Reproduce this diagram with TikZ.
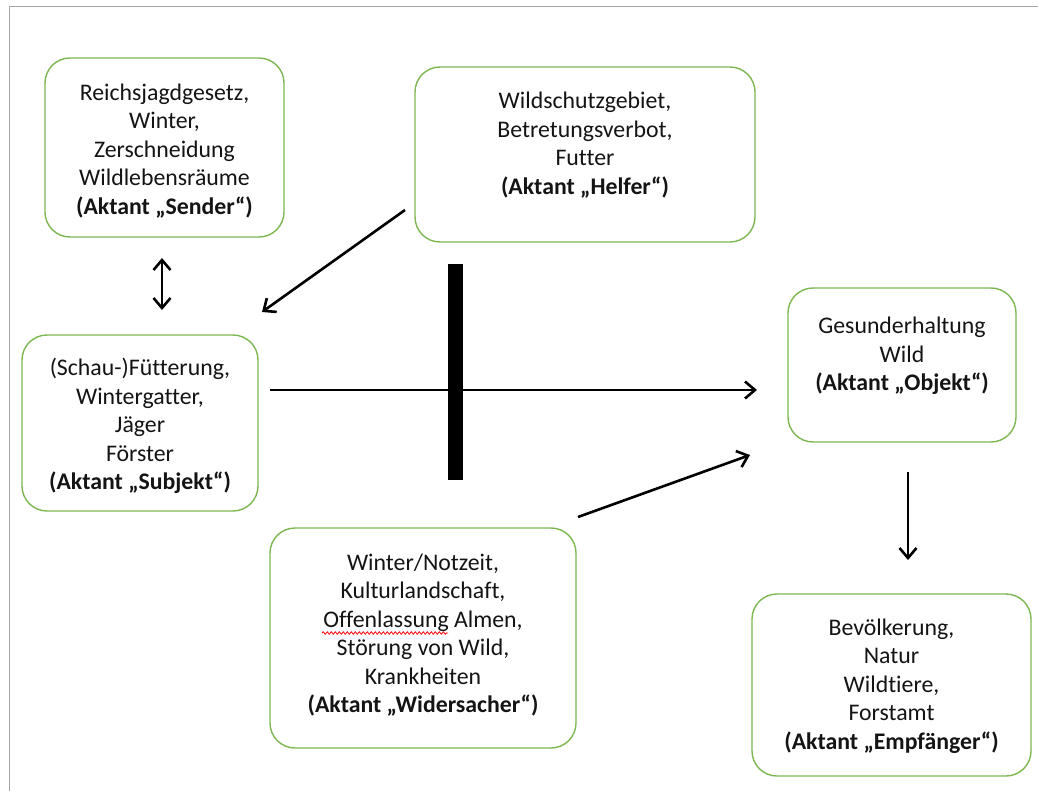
\documentclass[tikz,border=0pt]{standalone}
\usepackage{fontspec}
\setmainfont[Ligatures=NoCommon]{Carlito}
\usetikzlibrary{arrows.meta,decorations.pathmorphing}
\definecolor{boxgreen}{RGB}{125,183,82}
\definecolor{framegray}{RGB}{165,165,165}
\begin{document}
\begin{tikzpicture}[x=1pt,y=-1pt,
  box/.style={draw=boxgreen, line width=1.4pt, rounded corners=25pt, inner sep=0},
  lbl/.style={align=center, font=\fontsize{23.8}{28.5}\selectfont, text=black!92, inner sep=0},
  conn/.style={line width=2.6pt, -{Straight Barb[length=10pt,width=17pt]}},
  dconn/.style={line width=2.6pt, {Straight Barb[length=10pt,width=17pt]}-{Straight Barb[length=10pt,width=17pt]}}]
\useasboundingbox (0,0) rectangle (1038,791);
\fill[white] (0,0) rectangle (1038,791);
\draw[framegray, line width=1pt] (9,791) -- (9,7) -- (1038,7);

% boxes
\node[box, minimum width=239pt, minimum height=179pt] (sender) at (164.5,147.5) {};
\node[box, minimum width=340pt, minimum height=175pt] (helfer) at (585,154.5) {};
\node[box, minimum width=236pt, minimum height=176pt] (subjekt) at (140,423) {};
\node[box, minimum width=228pt, minimum height=154pt] (objekt) at (902,365) {};
\node[box, minimum width=306pt, minimum height=220pt] (wider) at (423,638) {};
\node[box, minimum width=279pt, minimum height=182pt] (empf) at (891.5,685) {};

% texts
\node[lbl] (sendertxt) at (164.5,151) {Reichsjagdgesetz,\\Winter,\\Zerschneidung\\Wildlebensräume\\\textbf{(Aktant „Sender“)}};
\node[lbl] (helfertxt) at (585,145) {Wildschutzgebiet,\\Betretungsverbot,\\Futter\\\textbf{(Aktant „Helfer“)}};
\node[lbl] (subjekttxt) at (140,426) {(Schau-)Fütterung,\\Wintergatter,\\Jäger\\Förster\\\textbf{(Aktant „Subjekt“)}};
\node[lbl] (objekttxt) at (902,356) {Gesunderhaltung\\Wild\\\textbf{(Aktant „Objekt“)}};
\node[lbl] (widertxt) at (423,635) {Winter/Notzeit,\\Kulturlandschaft,\\Offenlassung Almen,\\Störung von Wild,\\Krankheiten\\\textbf{(Aktant „Widersacher“)}};
\node[lbl] (empftxt) at (891.5,686) {Bevölkerung,\\Natur\\Wildtiere,\\Forstamt\\\textbf{(Aktant „Empfänger“)}};

% spell-check underline
\draw[red, line width=0.8pt, decorate, decoration={snake, amplitude=1.2pt, segment length=4pt}] (322,633) -- (448,633);

% blocking bar
\node[fill=black, minimum width=15pt, minimum height=216pt, inner sep=0] (bar) at (455.5,372) {};

% connector end points
\coordinate (sA) at (162,258);
\coordinate (sB) at (162,310);
\coordinate (hA) at (405,210);
\coordinate (hB) at (262,312);
\coordinate (mA) at (270,390);
\coordinate (mB) at (757,390);
\coordinate (wA) at (578,517);
\coordinate (wB) at (750,455);
\coordinate (oA) at (908,472);
\coordinate (oB) at (908,560);

\draw[dconn] (sA) -- (sB);
\draw[conn] (hA) -- (hB);
\draw[conn] (mA) -- (mB);
\draw[conn] (wA) -- (wB);
\draw[conn] (oA) -- (oB);
\end{tikzpicture}
\end{document}
